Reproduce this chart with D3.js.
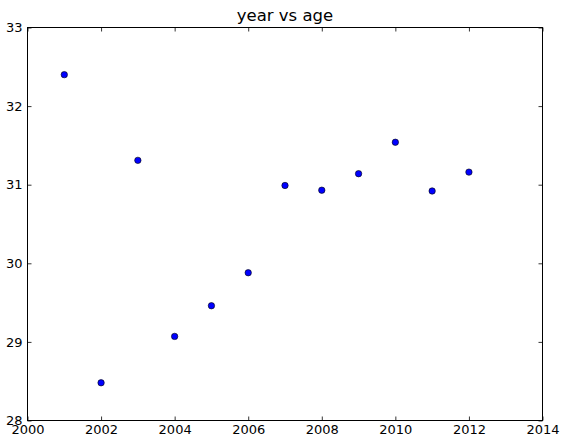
<!DOCTYPE html>
<html><head><meta charset="utf-8">
<script src="https://cdn.jsdelivr.net/npm/d3@7"></script>
<style>body{margin:0;background:#fff}svg{display:block}text{font-family:"DejaVu Sans",sans-serif}</style>
</head><body>
<svg id="c" width="561" height="444"></svg>
<script>
const years = [2001,2002,2003,2004,2005,2006,2007,2008,2009,2010,2011,2012];
const ages = [32.40,28.48,31.31,29.07,29.46,29.88,30.99,30.93,31.14,31.54,30.92,31.16];
const xTicks = [2000,2002,2004,2006,2008,2010,2012,2014];
const yTicks = [28,29,30,31,32,33];
const title = "year vs age";

const svg = d3.select("#c");
const L=27.5,R=542.5,T=27.5,B=420.5;
const x = d3.scaleLinear().domain([2000,2014]).range([L,R]);
const y = d3.scaleLinear().domain([28,33]).range([B,T]);

const fmt = d => String(d);
function style(g){g.select(".domain").remove();g.selectAll("line").attr("stroke","#000").attr("stroke-width",0.8);g.selectAll("text").attr("font-size","13px").attr("fill","#000");}
svg.append("g").attr("transform",`translate(0,${B})`).call(d3.axisBottom(x).tickValues(xTicks).tickFormat(fmt).tickSizeInner(-4).tickSizeOuter(0).tickPadding(4)).call(style);
svg.append("g").attr("transform",`translate(0,${T})`).call(d3.axisTop(x).tickValues(xTicks).tickFormat("").tickSizeInner(-4).tickSizeOuter(0)).call(style);
svg.append("g").attr("transform",`translate(${L},0)`).call(d3.axisLeft(y).tickValues(yTicks).tickFormat(fmt).tickSizeInner(-4).tickSizeOuter(0).tickPadding(5)).call(style);
svg.append("g").attr("transform",`translate(${R},0)`).call(d3.axisRight(y).tickValues(yTicks).tickFormat("").tickSizeInner(-4).tickSizeOuter(0)).call(style);

svg.append("rect").attr("x",L).attr("y",T).attr("width",R-L).attr("height",B-T).attr("fill","none").attr("stroke","#000").attr("stroke-width",1);

svg.append("g").selectAll("circle").data(years).join("circle")
  .attr("cx",(d)=>x(d)).attr("cy",(d,i)=>y(ages[i])).attr("r",3.2)
  .attr("fill","#0000ff").attr("stroke","#000").attr("stroke-width",0.6);

svg.append("text").attr("x",(L+R)/2).attr("y",21).attr("text-anchor","middle").attr("font-size","16.5px").text(title);
</script>
</body></html>
